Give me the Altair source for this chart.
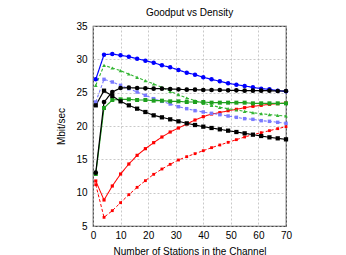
import altair as alt
import pandas as pd

x_vals = [1, 4, 7, 10, 13, 16, 19, 22, 25, 28, 31, 34, 37, 40, 43, 46, 49, 52, 55, 58, 61, 64, 67, 70]

blue_solid = [27.0, 30.7, 30.8, 30.6, 30.4, 30.1, 29.8, 29.5, 29.1, 28.8, 28.4, 28.0, 27.7, 27.3, 27.0, 26.7, 26.4, 26.2, 26.0, 25.8, 25.6, 25.5, 25.3, 25.2]
blue_dashed = [23.6, 27.0, 26.6, 26.1, 25.6, 25.1, 24.6, 24.1, 23.7, 23.3, 22.9, 22.6, 22.3, 22.1, 21.9, 21.7, 21.5, 21.3, 21.1, 21.0, 20.8, 20.7, 20.55, 20.4]
green_dashed = [26.1, 29.1, 28.7, 28.3, 27.8, 27.3, 26.8, 26.3, 25.8, 25.2, 24.7, 24.2, 23.8, 23.4, 23.1, 22.8, 22.6, 22.4, 22.2, 22.0, 21.85, 21.7, 21.6, 21.5]
green_solid = [12.8, 22.7, 23.9, 24.0, 24.0, 23.9, 23.9, 23.8, 23.8, 23.7, 23.7, 23.6, 23.6, 23.6, 23.5, 23.5, 23.5, 23.5, 23.5, 23.4, 23.4, 23.4, 23.4, 23.4]
black_solid = [13.0, 23.6, 25.1, 25.7, 25.75, 25.7, 25.65, 25.6, 25.6, 25.55, 25.5, 25.45, 25.45, 25.4, 25.4, 25.4, 25.35, 25.35, 25.3, 25.3, 25.3, 25.3, 25.25, 25.25]
black_thin = [23.1, 25.3, 24.5, 23.7, 23.1, 22.6, 22.1, 21.6, 21.3, 21.0, 20.7, 20.4, 20.15, 19.9, 19.7, 19.5, 19.3, 19.1, 18.9, 18.7, 18.5, 18.3, 18.15, 18.0]
red_solid = [11.75, 8.9, 11.0, 12.8, 14.3, 15.6, 16.6, 17.5, 18.35, 19.1, 19.7, 20.3, 20.9, 21.4, 21.8, 22.0, 22.3, 22.5, 22.75, 22.95, 23.1, 23.25, 23.35, 23.45]
red_dashed = [11.2, 6.3, 7.3, 8.5, 9.7, 10.8, 11.8, 12.75, 13.55, 14.25, 14.9, 15.4, 15.85, 16.3, 16.75, 17.15, 17.55, 17.95, 18.35, 18.7, 19.0, 19.3, 19.6, 19.9]

x_ticks = [0, 10, 20, 30, 40, 50, 60, 70]
y_ticks = [5, 10, 15, 20, 25, 30, 35]

series = [
    # name, values, color, dash, shape, size, strokeWidth
    ("red_dashed", red_dashed, "#ff0000", [3, 2], "square", 8, 1.0),
    ("red_solid", red_solid, "#ff0000", [1, 0], "square", 22, 1.2),
    ("blue_dashed", blue_dashed, "#7a7aff", [3, 2], "square", 8, 1.0),
    ("green_dashed", green_dashed, "#33b533", [3, 2], "triangle-up", 10, 1.0),
    ("green_solid", green_solid, "#1ea01e", [1, 0], "square", 24, 1.2),
    ("black_thin", black_thin, "#000000", [1, 0], "square", 6, 0.9),
    ("blue_solid", blue_solid, "#0000ff", [1, 0], "circle", 24, 1.2),
    ("black_solid", black_solid, "#000000", [1, 0], "circle", 34, 1.6),
]

rows = []
for i, (name, vals, *_rest) in enumerate(series):
    for xv, yv in zip(x_vals, vals):
        rows.append({"series": name, "order": i, "x": xv, "y": yv})
df = pd.DataFrame(rows)

names = [s[0] for s in series]
color_scale = alt.Scale(domain=names, range=[s[2] for s in series])
dash_scale = alt.Scale(domain=names, range=[s[3] for s in series])
shape_scale = alt.Scale(domain=names, range=[s[4] for s in series])
size_scale = alt.Scale(domain=names, range=[s[5] for s in series])
width_scale = alt.Scale(domain=names, range=[s[6] for s in series])

xs = alt.Scale(domain=[0, 70], nice=False, zero=False)
ys = alt.Scale(domain=[5, 35], nice=False, zero=False)

common = dict(grid=True, gridDash=[2, 2], gridColor="#bbbbbb", gridWidth=0.8,
              ticks=False, domain=False, labelFontSize=10, titleFontSize=10,
              labelFont="Liberation Sans", titleFont="Liberation Sans",
              titleFontWeight="normal", labelColor="#000000", titleColor="#000000",
              labelOverlap=False, labelFlush=False)

x_enc = alt.X("x:Q", scale=xs, axis=alt.Axis(
    values=x_ticks, tickCount=len(x_ticks), title="Number of Stations in the Channel",
    labelPadding=4, titlePadding=6, **common))
y_enc = alt.Y("y:Q", scale=ys, axis=alt.Axis(
    values=y_ticks, tickCount=len(y_ticks), title="Mbit/sec",
    labelPadding=6, titlePadding=9, **common))

base = alt.Chart(df)

lines = base.mark_line().encode(
    x=x_enc, y=y_enc,
    color=alt.Color("series:N", scale=color_scale, legend=None),
    strokeDash=alt.StrokeDash("series:N", scale=dash_scale, legend=None),
    strokeWidth=alt.StrokeWidth("series:N", scale=width_scale, legend=None),
    detail="series:N",
    order="x:Q",
)

points = base.mark_point(filled=True, opacity=1).encode(
    x=x_enc, y=y_enc,
    color=alt.Color("series:N", scale=color_scale, legend=None),
    shape=alt.Shape("series:N", scale=shape_scale, legend=None),
    size=alt.Size("series:N", scale=size_scale, legend=None),
    order="order:Q",
)

chart = alt.layer(lines, points).properties(
    width=193, height=200,
    title=alt.Title("Goodput vs Density", fontSize=10, font="Liberation Sans",
                    fontWeight="normal", color="#000000", offset=3),
    autosize=alt.AutoSizeParams(type="none"),
    padding={"left": 85, "top": 18, "right": 50, "bottom": 30},
).configure_view(stroke="#444444", strokeWidth=1.2)

chart.save("out.html", embed_options={"renderer": "svg", "actions": False})
